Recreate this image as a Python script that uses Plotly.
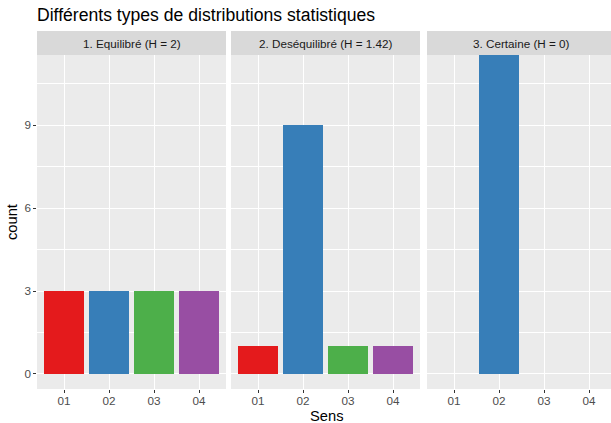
import plotly.graph_objects as go

categories = ["01", "02", "03", "04"]
panel_titles = ["1. Equilibré (H = 2)", "2. Deséquilibré (H = 1.42)", "3. Certaine (H = 0)"]
counts_equilibre = [3, 3, 3, 3]
counts_desequilibre = [1, 9, 1, 1]
counts_certaine = [0, 12, 0, 0]
colors = ["#E41A1C", "#377EB8", "#4DAF4A", "#984EA3"]
y_ticks = [0, 3, 6, 9]
y_minor = [1.5, 4.5, 7.5, 10.5]

W, H = 611, 423
font = "Liberation Sans, Arial, sans-serif"
TICK = 11.7
STRIP = 11.7
AXT = 14.7
TITLE = 17.6

# panel extents in pixels (third panel runs past the right edge of the picture)
panels_px = [(37, 226), (231, 420), (427, 616)]
panel_top, panel_bot = 55, 389
strip_top = 31

series = [counts_equilibre, counts_desequilibre, counts_certaine]

fig = go.Figure()
for i, vals in enumerate(series):
    ax = "" if i == 0 else str(i + 1)
    fig.add_trace(go.Bar(
        x=categories, y=vals, width=0.9,
        marker=dict(color=colors, line=dict(width=0)),
        xaxis="x" + ax, yaxis="y" + ax, showlegend=False,
        hoverinfo="x+y",
    ))

layout = dict(
    width=W, height=H,
    margin=dict(l=0, r=0, t=0, b=0),
    paper_bgcolor="white", plot_bgcolor="#EBEBEB",
    font=dict(family=font, color="#4D4D4D"),
    bargap=0, showlegend=False,
)

shapes = []
annotations = []
ydom = [(H - panel_bot) / H, (H - panel_top) / H]
for i, (x0, x1) in enumerate(panels_px):
    ax = "" if i == 0 else str(i + 1)
    full_w = x1 - x0
    vis_x1 = min(x1, W)
    unit = full_w / 4.2
    xr = [-0.6, -0.6 + (vis_x1 - x0) / unit]
    layout["xaxis" + ax] = dict(
        domain=[x0 / W, vis_x1 / W], anchor="y" + ax,
        type="category", categoryorder="array", categoryarray=categories,
        range=xr, showgrid=True, gridcolor="white", gridwidth=1.07,
        ticks="outside", ticklen=2.75, tickwidth=1.07, tickcolor="#333333",
        tickfont=dict(size=TICK, color="#4D4D4D", family=font),
        ticklabelstandoff=-2,
        showline=False, zeroline=False, fixedrange=True,
    )
    yd = dict(
        domain=ydom, anchor="x" + ax,
        range=[-0.55, 11.55], tickmode="array", tickvals=y_ticks,
        showgrid=True, gridcolor="white", gridwidth=1.07,
        minor=dict(tickmode="array", tickvals=y_minor, showgrid=True,
                   gridcolor="white", gridwidth=0.53, ticks=""),
        zeroline=False, showline=False, fixedrange=True,
    )
    if i == 0:
        yd.update(ticks="outside", ticklen=2.75, tickwidth=1.07, tickcolor="#333333",
                  tickfont=dict(size=TICK, color="#4D4D4D", family=font), showticklabels=True)
    else:
        yd.update(showticklabels=False, ticks="")
    layout["yaxis" + ax] = yd

    shapes.append(dict(type="rect", xref="paper", yref="paper",
                       x0=x0 / W, x1=vis_x1 / W,
                       y0=(H - panel_top) / H, y1=(H - strip_top) / H,
                       fillcolor="#D9D9D9", line=dict(width=0), layer="below"))
    annotations.append(dict(text=panel_titles[i], xref="paper", yref="paper",
                            x=(x0 + x1) / 2 / W, y=(H - (strip_top + panel_top) / 2) / H,
                            xanchor="center", yanchor="middle", showarrow=False,
                            font=dict(size=STRIP, color="#1A1A1A", family=font)))

annotations.append(dict(text="Différents types de distributions statistiques",
                        xref="paper", yref="paper", x=35 / W, y=(H - 15) / H,
                        xanchor="left", yanchor="middle", showarrow=False,
                        font=dict(size=TITLE, color="black", family=font)))
annotations.append(dict(text="Sens", xref="paper", yref="paper",
                        x=(37 + 616) / 2 / W, y=(H - 416) / H,
                        xanchor="center", yanchor="middle", showarrow=False,
                        font=dict(size=AXT, color="black", family=font)))
annotations.append(dict(text="count", xref="paper", yref="paper",
                        x=12 / W, y=(H - (panel_top + panel_bot) / 2) / H,
                        xanchor="center", yanchor="middle", showarrow=False, textangle=-90,
                        font=dict(size=AXT, color="black", family=font)))

layout["shapes"] = shapes
layout["annotations"] = annotations
fig.update_layout(**layout)
fig.write_html("out.html", config={"displayModeBar": False},
               post_script="document.body.style.margin='0';document.body.style.padding='0';")
